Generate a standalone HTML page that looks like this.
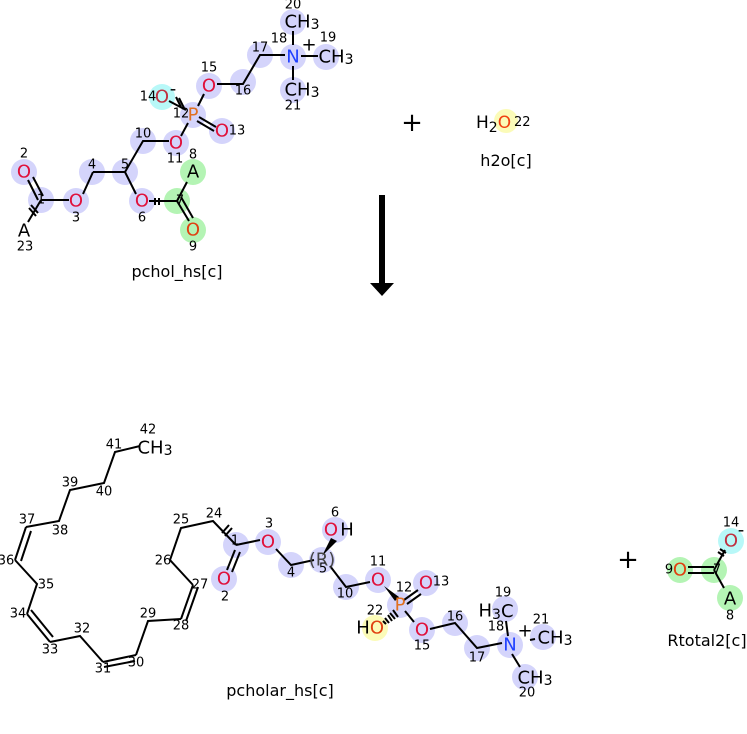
<!DOCTYPE html>
<html><head><meta charset="utf-8"><style>
html,body{margin:0;padding:0;background:#fff;}
svg text{font-family:"DejaVu Sans","Liberation Sans",sans-serif;}
.a{font-size:18px;text-anchor:middle;dominant-baseline:central;}
.n{font-size:13px;text-anchor:middle;dominant-baseline:central;fill:#000;}
.l{font-size:16px;text-anchor:middle;fill:#000;}
line,polyline{stroke:#000;stroke-width:2;fill:none;}
.o{fill:#e0103a;} .p{fill:#e07020;} .nn{fill:#2040ff;} .k{fill:#000;} .or{fill:#e04010;}
</style></head><body>
<svg width="747" height="729" viewBox="0 0 747 729" xmlns="http://www.w3.org/2000/svg">
<g fill="#d4d4fb">
<circle cx="41" cy="200" r="13"/><circle cx="24" cy="172" r="13"/><circle cx="76" cy="201" r="13"/>
<circle cx="92" cy="172" r="13"/><circle cx="125" cy="172" r="13"/><circle cx="142" cy="201" r="13"/>
<circle cx="143" cy="141" r="13"/><circle cx="176" cy="143" r="13"/><circle cx="193" cy="115" r="13"/>
<circle cx="222" cy="131" r="13"/><circle cx="209" cy="86" r="13"/><circle cx="243" cy="82" r="13"/>
<circle cx="260" cy="55" r="13"/><circle cx="293" cy="57" r="13"/><circle cx="326" cy="57" r="13"/>
<circle cx="293" cy="22" r="13"/><circle cx="293" cy="90" r="13"/>
</g>
<circle cx="162" cy="97" r="13" fill="#b8f8f8"/>
<g fill="#b4f4b4"><circle cx="177" cy="201" r="13"/><circle cx="193" cy="172" r="13"/><circle cx="193" cy="230" r="13"/></g>
<line x1="41" y1="200" x2="69" y2="200"/>
<line x1="83" y1="194" x2="93" y2="172"/>
<polyline points="93,172 125,172 136,194"/>
<polyline points="125,172 143,141 169,141"/>
<line x1="149" y1="201" x2="177" y2="201"/>
<line x1="177" y1="201" x2="187" y2="182"/>
<line x1="28" y1="180" x2="38" y2="200"/><line x1="33" y1="177" x2="43" y2="196"/>
<line x1="177" y1="201" x2="189" y2="221"/><line x1="181" y1="197" x2="193" y2="218"/>
<line x1="41" y1="200" x2="28" y2="222"/>
<line x1="29" y1="208" x2="36" y2="216"/><line x1="31" y1="205" x2="38" y2="213"/>
<line x1="155" y1="198" x2="155" y2="205"/><line x1="159" y1="198" x2="159" y2="205"/>
<line x1="181" y1="136" x2="188" y2="123"/>
<line x1="169" y1="101" x2="186" y2="110"/>
<line x1="176" y1="97" x2="181" y2="107"/><line x1="179" y1="98" x2="184" y2="108"/>
<line x1="199" y1="117" x2="216" y2="127"/><line x1="197" y1="121" x2="214" y2="131"/>
<line x1="198" y1="106" x2="204" y2="94"/>
<polyline points="217,84 243,84 260,55 285,55"/>
<line x1="293" y1="45" x2="293" y2="31" />
<line x1="293" y1="66" x2="293" y2="80"/>
<line x1="301" y1="56" x2="318" y2="56" stroke="#888"/>
<text class="a o" x="24" y="172">O</text><text class="a o" x="76" y="201">O</text>
<text class="a o" x="142" y="201">O</text><text class="a o" x="176" y="143">O</text>
<text class="a p" x="193" y="115">P</text><text class="a o" x="222" y="131">O</text>
<text class="a o" x="209" y="86">O</text><text class="a" x="162" y="97" fill="#c03040">O</text>
<text class="a nn" x="293" y="57">N</text>
<text class="a k" x="24" y="231">A</text><text class="a k" x="193" y="172">A</text>
<text class="a or" x="193" y="230">O</text>
<text class="a k" x="302" y="22">CH<tspan font-size="14" dy="3">3</tspan></text>
<text class="a k" x="336" y="57">CH<tspan font-size="14" dy="3">3</tspan></text>
<text class="a k" x="302" y="90">CH<tspan font-size="14" dy="3">3</tspan></text>
<text class="a k" x="173" y="89" font-size="18">-</text>
<text class="a k" x="309" y="45" font-size="22">+</text>
<text class="n" x="41" y="200">1</text><text class="n" x="24" y="154">2</text><text class="n" x="76" y="218">3</text>
<text class="n" x="25" y="247">23</text><text class="n" x="92" y="165">4</text><text class="n" x="125" y="165">5</text>
<text class="n" x="142" y="218">6</text><text class="n" x="180" y="201">7</text><text class="n" x="193" y="155">8</text>
<text class="n" x="193" y="247">9</text><text class="n" x="143" y="134">10</text><text class="n" x="175" y="159">11</text>
<text class="n" x="181" y="114">12</text><text class="n" x="237" y="131">13</text><text class="n" x="148" y="97">14</text>
<text class="n" x="209" y="68">15</text><text class="n" x="243" y="91">16</text><text class="n" x="260" y="48">17</text>
<text class="n" x="279" y="39">18</text><text class="n" x="328" y="38">19</text><text class="n" x="293" y="5">20</text>
<text class="n" x="293" y="106">21</text>
<text class="l" x="177" y="277">pchol_hs[c]</text>
<text x="412" y="131" font-size="26" text-anchor="middle">+</text>
<circle cx="506" cy="121" r="12" fill="#fbfbb8"/>
<text x="476" y="128" font-size="17">H<tspan font-size="14" dy="4">2</tspan><tspan dy="-4" fill="#f04010">O</tspan></text>
<text x="514" y="126" font-size="13">22</text>
<text class="l" x="506" y="166">h2o[c]</text>
<rect x="379" y="195" width="6" height="88" fill="#000"/>
<polygon points="370,283 394,283 382,296" fill="#000"/>
<g fill="#d4d4fb">
<circle cx="236" cy="545" r="13"/><circle cx="224" cy="579" r="13"/><circle cx="268" cy="542" r="13"/>
<circle cx="291" cy="565" r="13"/><circle cx="322" cy="560" r="13"/><circle cx="335" cy="530" r="13"/>
<circle cx="346" cy="587" r="13"/><circle cx="378" cy="580" r="13"/><circle cx="400" cy="605" r="13"/>
<circle cx="426" cy="583" r="13"/><circle cx="422" cy="630" r="13"/><circle cx="455" cy="623" r="13"/>
<circle cx="477" cy="648" r="13"/><circle cx="510" cy="645" r="13"/><circle cx="505" cy="609" r="13"/>
<circle cx="543" cy="637" r="13"/><circle cx="525" cy="677" r="13"/>
</g>
<circle cx="375" cy="628" r="13" fill="#fbfbb8"/>
<polyline points="140,446 115,452 104,483 70,490 59,521 26,527"/>
<line x1="26" y1="527" x2="15" y2="560"/><line x1="31" y1="531" x2="21" y2="561"/>
<polyline points="15,560 37,584 27,614"/>
<line x1="27" y1="614" x2="50" y2="642"/><line x1="31" y1="610" x2="53" y2="637"/>
<polyline points="50,642 80,636 103,662"/>
<line x1="103" y1="662" x2="136" y2="655"/><line x1="104" y1="667" x2="135" y2="661"/>
<polyline points="136,655 148,621 181,619"/>
<line x1="181" y1="619" x2="193" y2="585"/><line x1="186" y1="621" x2="198" y2="587"/>
<polyline points="193,585 170,560 181,528 213,521 236,545"/>
<line x1="222" y1="533" x2="229" y2="525"/><line x1="225" y1="536" x2="232" y2="528"/>
<line x1="236" y1="545" x2="260" y2="540"/>
<line x1="235" y1="550" x2="227" y2="570"/><line x1="240" y1="552" x2="232" y2="572"/>
<polyline points="276,549 291,565 314,560"/>
<polygon points="322,556 331,538 337,541" fill="#000"/>
<polyline points="330,566 346,587 370,582"/>
<polygon points="384,586 399,597 395,601" fill="#000"/>
<g stroke-width="1.3"><line x1="383" y1="621" x2="386" y2="624"/><line x1="385" y1="618" x2="389" y2="623"/><line x1="388" y1="615" x2="392" y2="621"/><line x1="390" y1="613" x2="395" y2="619"/><line x1="393" y1="610" x2="398" y2="617"/></g>
<line x1="404" y1="600" x2="418" y2="590"/><line x1="407" y1="604" x2="421" y2="594"/>
<line x1="405" y1="611" x2="414" y2="622"/>
<polyline points="430,629 455,623 477,648 502,643"/>
<line x1="508" y1="636" x2="506" y2="621"/>
<line x1="512" y1="654" x2="520" y2="667"/>
<line x1="530" y1="640" x2="535" y2="639"/>
<text class="a o" x="224" y="579">O</text><text class="a o" x="268" y="542">O</text>
<text class="a o" x="331" y="530">O</text><text class="a k" x="347" y="530">H</text>
<text class="a o" x="378" y="580">O</text><text class="a p" x="400" y="605">P</text>
<text class="a o" x="426" y="583">O</text><text class="a o" x="422" y="630">O</text>
<text class="a k" x="363" y="628">H</text><text class="a or" x="377" y="628">O</text>
<text class="a nn" x="510" y="645">N</text>
<text class="a k" x="496" y="611">H<tspan font-size="14" dy="4">3</tspan><tspan dy="-4">C</tspan></text>
<text class="a k" x="555" y="638">CH<tspan font-size="14" dy="3">3</tspan></text>
<text class="a k" x="535" y="678">CH<tspan font-size="14" dy="3">3</tspan></text>
<text class="a k" x="525" y="631" font-size="22">+</text>
<text class="a" x="322" y="560" font-size="15" fill="#444">(R)</text>
<text class="a k" x="155" y="448">CH<tspan font-size="14" dy="3">3</tspan></text>
<g>
<text class="n" x="235" y="541">1</text><text class="n" x="225" y="597">2</text><text class="n" x="269" y="524">3</text>
<text class="n" x="291" y="573">4</text><text class="n" x="323" y="569">5</text><text class="n" x="335" y="513">6</text>
<text class="n" x="345" y="594">10</text><text class="n" x="378" y="562">11</text><text class="n" x="404" y="588">12</text>
<text class="n" x="441" y="582">13</text><text class="n" x="422" y="646">15</text><text class="n" x="455" y="617">16</text>
<text class="n" x="477" y="658">17</text><text class="n" x="496" y="627">18</text><text class="n" x="503" y="593">19</text>
<text class="n" x="527" y="693">20</text><text class="n" x="541" y="620">21</text><text class="n" x="375" y="611">22</text>
<text class="n" x="214" y="514">24</text><text class="n" x="181" y="520">25</text><text class="n" x="163" y="561">26</text>
<text class="n" x="200" y="585">27</text><text class="n" x="181" y="626">28</text><text class="n" x="148" y="614">29</text>
<text class="n" x="136" y="663">30</text><text class="n" x="103" y="669">31</text><text class="n" x="82" y="629">32</text>
<text class="n" x="50" y="650">33</text><text class="n" x="18" y="614">34</text><text class="n" x="46" y="585">35</text>
<text class="n" x="6" y="561">36</text><text class="n" x="27" y="520">37</text><text class="n" x="60" y="531">38</text>
<text class="n" x="70" y="483">39</text><text class="n" x="104" y="492">40</text><text class="n" x="114" y="445">41</text>
<text class="n" x="148" y="430">42</text>
</g>
<text class="l" x="280" y="696">pcholar_hs[c]</text>
<text x="628" y="568" font-size="26" text-anchor="middle">+</text>
<g fill="#b4f4b4"><circle cx="680" cy="570" r="13"/><circle cx="714" cy="570" r="13"/><circle cx="730" cy="598" r="13"/></g>
<circle cx="731" cy="541" r="13" fill="#b8f8f8"/>
<line x1="688" y1="567" x2="714" y2="567"/><line x1="688" y1="573" x2="714" y2="573"/>
<line x1="714" y1="570" x2="725" y2="550"/>
<line x1="718" y1="552" x2="724" y2="556"/><line x1="720" y1="549" x2="726" y2="553"/>
<line x1="714" y1="570" x2="724" y2="588"/>
<text class="a or" x="680" y="570">O</text><text class="a" x="731" y="541" fill="#c03040">O</text>
<text class="a k" x="730" y="599">A</text>
<text class="n" x="669" y="570">9</text><text class="n" x="717" y="570">7</text>
<text class="n" x="731" y="523">14</text><text class="n" x="730" y="616">8</text>
<text class="a k" x="741" y="530" font-size="18">-</text>
<text class="l" x="707" y="646">Rtotal2[c]</text>
</svg>
</body></html>
